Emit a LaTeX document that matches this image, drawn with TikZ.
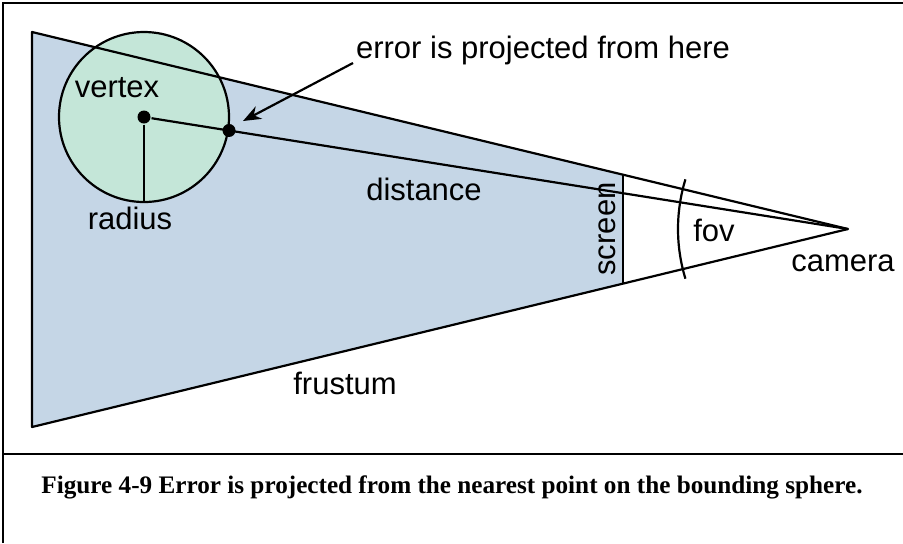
\documentclass[tikz,border=0pt]{standalone}
\usepackage{fontspec}
\setmainfont{Liberation Serif}
\newfontfamily\labelfont{Liberation Sans}
\usetikzlibrary{positioning,calc,arrows.meta}
\definecolor{frustumblue}{RGB}{197,214,230}
\definecolor{spheregreen}{RGB}{196,230,216}

\begin{document}
\begin{tikzpicture}[>={Stealth[length=9pt,width=7pt]}, x=0.5pt, y=-0.5pt, line width=1.1pt,
		lbl/.style={font=\labelfont\fontsize{15.5}{18}\selectfont, inner sep=0pt},
		dot/.style={circle, fill=black, inner sep=0pt, minimum size=6.5pt}]
		\useasboundingbox (0,0) rectangle (903,543);
		% frame and caption cell
		\draw (3,543) -- (3,3) -- (903,3);
		\draw (3,454) -- (903,454);
		% frustum
		\coordinate (nearTop) at (32,32);
		\coordinate (nearBot) at (32,427);
		\coordinate (camera) at (848,229);
		\coordinate (scrTop) at ($(nearTop)!0.7243!(camera)$);
		\coordinate (scrBot) at ($(nearBot)!0.7243!(camera)$);
		\fill[frustumblue] (nearTop) -- (scrTop) -- (scrBot) -- (nearBot) -- cycle;
		% bounding sphere
		\node[circle, draw, fill=spheregreen, minimum size=85pt, inner sep=0pt] (sphere) at (144,117) {};
		\draw[line join=round] (nearBot) -- (nearTop) -- (camera) -- cycle;
		\draw (scrTop) -- (scrBot);
		\node[dot] (center) at (sphere.center) {};
		\node[dot] (hit) at (sphere.-9) {};
		\draw (center) -- (camera);
		\draw (center) -- (sphere.south);
		\draw (camera) ++(163:170) arc[start angle=163, end angle=197, radius=170];
		% labels
		\node[lbl] (vertex) at (117,88) {vertex};
		\node[lbl] (radius) at (130,218) {radius};
		\node[lbl] (distance) at (424,189) {distance};
		\node[lbl, rotate=90] (screen) at (607,229) {screen};
		\node[lbl] (fov) at (714,230) {fov};
		\node[lbl] (cameralbl) at (843,263) {camera};
		\node[lbl] (frustum) at (345,383) {frustum};
		\node[lbl, anchor=west] (error) at (355,50) {error is projected from here};
		\coordinate (errTail) at (353,63);
		\coordinate (errTip) at (243,121);
		\draw[->] (errTail) -- (errTip);
		% caption
		\node[font=\bfseries\fontsize{12.6}{15}\selectfont, inner sep=0pt] (caption) at (452,487)
		{Figure 4-9 Error is projected from the nearest point on the bounding sphere.};
	\end{tikzpicture}
\end{document}
